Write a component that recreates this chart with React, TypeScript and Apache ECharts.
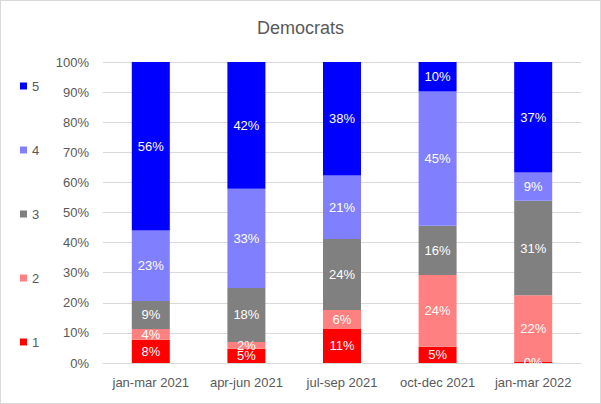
import React, { useEffect, useRef } from "react";
import * as echarts from "echarts";

const categories = ["jan-mar 2021", "apr-jun 2021", "jul-sep 2021", "oct-dec 2021", "jan-mar 2022"];
const seriesNames = ["1", "2", "3", "4", "5"];
const values1 = [7.7, 4.7, 11.3, 5.4, 0.3];
const values2 = [3.6, 2.3, 6.3, 23.8, 22.2];
const values3 = [9.3, 17.9, 23.6, 16.4, 31.4];
const values4 = [23.4, 33.0, 21.1, 44.6, 9.4];
const values5 = [56.0, 42.1, 37.7, 9.8, 36.7];
const colors = ["#ff0000", "#ff8080", "#808080", "#8080ff", "#0000ff"];
const legendOrder = ["5", "4", "3", "2", "1"];

const FONT = "Liberation Sans";

export default function App() {
  const ref = useRef<HTMLDivElement>(null);
  useEffect(() => {
    const chart = echarts.init(ref.current!, null, { renderer: "svg" });
    const data = [values1, values2, values3, values4, values5];
    chart.setOption({
      animation: false,
      textStyle: { fontFamily: FONT },
      title: {
        text: "Democrats",
        left: "center",
        top: 18,
        padding: 0,
        textStyle: { fontSize: 18, fontWeight: "normal", color: "#595959", fontFamily: FONT },
      },
      legend: {
        data: legendOrder,
        orient: "vertical",
        left: 19,
        top: 78,
        padding: 0,
        itemWidth: 7,
        itemHeight: 7,
        itemGap: 50,
        icon: "rect",
        textStyle: { fontSize: 13, color: "#595959", lineHeight: 14, fontFamily: FONT },
      },
      grid: { left: 102, right: 19, top: 61, bottom: 40 },
      xAxis: {
        type: "category",
        data: categories,
        axisLine: { lineStyle: { color: "#d9d9d9" } },
        axisTick: { show: false },
        axisLabel: { color: "#595959", fontSize: 13, margin: 13, interval: 0, fontFamily: FONT },
      },
      yAxis: {
        type: "value",
        min: 0,
        max: 100,
        interval: 10,
        axisLabel: { formatter: "{value}%", color: "#595959", fontSize: 13, margin: 14, fontFamily: FONT },
        splitLine: { lineStyle: { color: "#d9d9d9" } },
        axisLine: { show: false },
        axisTick: { show: false },
      },
      series: seriesNames.map((name, i) => ({
        name,
        type: "bar",
        stack: "total",
        barWidth: 38,
        data: data[i],
        itemStyle: { color: colors[i] },
        label: {
          show: true,
          position: "inside",
          color: "#ffffff",
          fontSize: 13,
          fontFamily: FONT,
          formatter: (p: any) => Math.round(p.value) + "%",
        },
      })),
    });
    return () => chart.dispose();
  }, []);
  return (
    <div
      ref={ref}
      style={{
        position: "fixed",
        left: 0,
        top: 0,
        width: 601,
        height: 404,
        boxSizing: "border-box",
        border: "1px solid #d9d9d9",
        background: "#fff",
      }}
    />
  );
}
